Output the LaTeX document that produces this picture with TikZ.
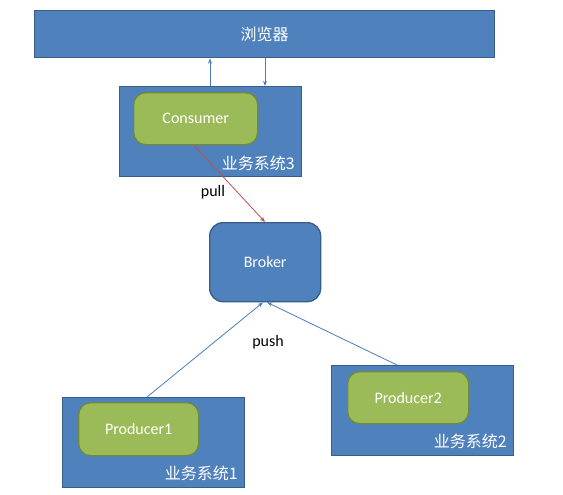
\documentclass[tikz,border=0pt]{standalone}
\usepackage{fontspec}
\setmainfont{Carlito}
\newfontfamily\cjk{Noto Sans CJK SC}
\usetikzlibrary{arrows.meta}
\definecolor{bluefill}{HTML}{4F81BD}
\definecolor{blueline}{HTML}{385D8A}
\definecolor{greenfill}{HTML}{9BBB59}
\definecolor{greenline}{HTML}{71893F}
\definecolor{arrowblue}{HTML}{4A7EBB}
\definecolor{arrowred}{HTML}{C0504D}
\tikzset{
  sysbox/.style={draw=blueline, fill=bluefill, line width=1pt, anchor=north west, inner sep=0pt},
  compbox/.style={draw=greenline, fill=greenfill, line width=1pt, rounded corners=9pt, anchor=north west, inner sep=0pt, text=white, font=\fontsize{12pt}{14pt}\selectfont},
  brokerbox/.style={draw=blueline, fill=bluefill, line width=1pt, rounded corners=10pt, anchor=north west, inner sep=0pt, text=white, font=\fontsize{12pt}{14pt}\selectfont},
  syslabel/.style={text=white, anchor=east, inner sep=0pt, font=\cjk\fontsize{12pt}{14pt}\selectfont},
  blueconn/.style={draw=arrowblue, line width=0.6pt, -{Stealth[length=4pt,width=3pt]}},
  redconn/.style={draw=arrowred, line width=0.6pt, -{Stealth[length=4pt,width=3pt]}},
  plain/.style={text=black, inner sep=0pt, font=\fontsize{12pt}{14pt}\selectfont}
}
\begin{document}
\begin{tikzpicture}[x=0.75pt,y=-0.75pt]
\useasboundingbox[fill=white] (0,0) rectangle (563,494);
% browser
\node[sysbox, minimum width=345pt, minimum height=35.25pt, text=white, font=\cjk\fontsize{12pt}{14pt}\selectfont] (browser) at (34,10) {浏览器};
% system 3
\node[sysbox, minimum width=136.5pt, minimum height=67.5pt] (box3) at (119,86) {};
\node[compbox, minimum width=93pt, minimum height=39pt] (consumer) at (133,92) {Consumer};
\node[syslabel] (lab3) at (295,163) {业务系统3};
% broker
\node[brokerbox, minimum width=83.25pt, minimum height=59.25pt] (broker) at (209,222) {Broker};
% system 1
\node[sysbox, minimum width=136.5pt, minimum height=67.5pt] (box1) at (62,397) {};
\node[compbox, minimum width=90pt, minimum height=39.75pt] (prod1) at (78,402) {Producer1};
\node[syslabel] (lab1) at (238,473) {业务系统1};
% system 2
\node[sysbox, minimum width=136.5pt, minimum height=67.5pt] (box2) at (331,365) {};
\node[compbox, minimum width=90.75pt, minimum height=39pt] (prod2) at (347,371) {Producer2};
\node[syslabel] (lab2) at (507,441) {业务系统2};
% labels
\node[plain] (pull) at (213,192) {pull};
\node[plain] (push) at (268,342) {push};
% connectors
\draw[blueconn] (box3.north -| 210,0) -- (browser.south -| 210,0);
\draw[blueconn] (browser.south -| 265,0) -- (box3.north -| 265,0);
\draw[redconn] (consumer.south -| 194,0) -- (broker.north -| 265,0);
\draw[blueconn] (box1.north -| 147,0) -- (broker.south -| 263,0);
\draw[blueconn] (box2.north -| 397,0) -- (broker.south -| 267,0);
\end{tikzpicture}
\end{document}
